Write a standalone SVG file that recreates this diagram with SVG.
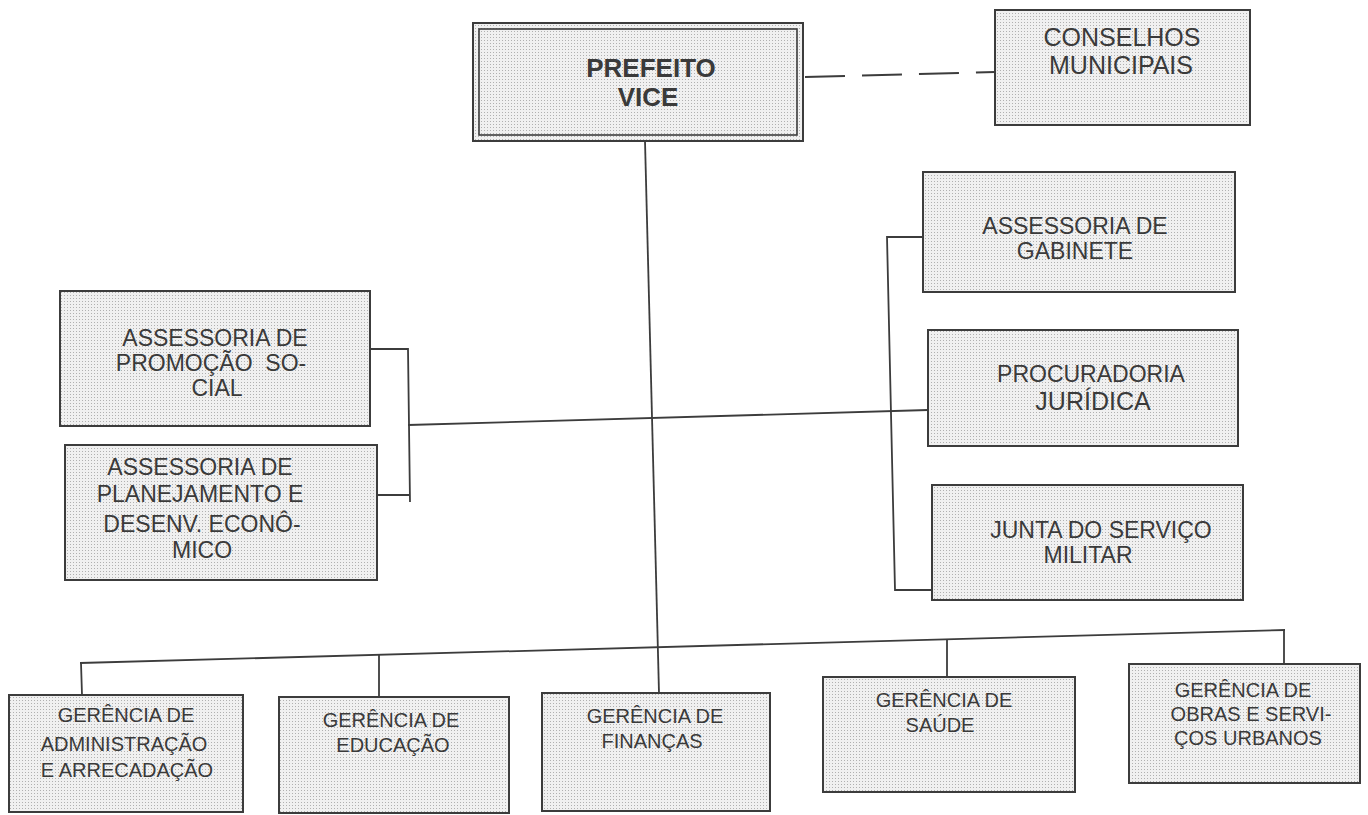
<svg xmlns="http://www.w3.org/2000/svg" width="1368" height="815" viewBox="0 0 1368 815">
<defs>
<pattern id="dots" width="3" height="3" patternUnits="userSpaceOnUse">
<rect width="3" height="3" fill="#f0f0f0"/>
<rect x="1" y="1" width="1" height="1" fill="#b0b0b0"/>
</pattern>
</defs>
<style>
.box{fill:url(#dots);stroke:#3c3c3c;stroke-width:2}
.inner{fill:none;stroke:#3c3c3c;stroke-width:1.6}
.ln{fill:none;stroke:#3c3c3c;stroke-width:1.8}
.dash{fill:none;stroke:#3c3c3c;stroke-width:2;stroke-dasharray:40 17}
text{font-family:"Liberation Sans",Arial,sans-serif;fill:#3a3a3a;text-anchor:middle}
.t20{font-size:20px}
.t22{font-size:22px}
.t23{font-size:23px}
.t25{font-size:25px}
.tb{font-size:26px;font-weight:bold}
.pre{white-space:pre}
</style>
<rect width="1368" height="815" fill="#ffffff"/>
<g id="connectors">
<line class="dash" x1="805" y1="77" x2="995" y2="72"/>
<line class="ln" x1="645" y1="141" x2="659" y2="693"/>
<line class="ln" x1="408" y1="425" x2="928" y2="410"/>
<polyline class="ln" points="370,349 408,349 410,502"/>
<line class="ln" x1="377" y1="495" x2="410" y2="495"/>
<polyline class="ln" points="923,237 887,237 895,590 932,590"/>
<line class="ln" x1="80" y1="663" x2="1285" y2="630"/>
<line class="ln" x1="81" y1="663" x2="82" y2="695"/>
<line class="ln" x1="379" y1="655" x2="379" y2="697"/>
<line class="ln" x1="947" y1="640" x2="947" y2="677"/>
<line class="ln" x1="1284" y1="630" x2="1284" y2="664"/>
</g>
<g id="prefeito">
<rect class="box" x="473" y="23" width="330" height="118"/>
<rect class="inner" x="479" y="29" width="318" height="106"/>
<text class="tb" x="651" y="77">PREFEITO</text>
<text class="tb" x="648" y="106">VICE</text>
</g>
<g id="conselhos">
<rect class="box" x="995" y="10" width="255" height="115"/>
<text class="t25" x="1122" y="46">CONSELHOS</text>
<text class="t25" x="1121" y="74">MUNICIPAIS</text>
</g>
<g id="gabinete">
<rect class="box" x="923" y="172" width="312" height="120"/>
<text class="t23" x="1075" y="234">ASSESSORIA DE</text>
<text class="t23" x="1075" y="259">GABINETE</text>
</g>
<g id="procuradoria">
<rect class="box" x="928" y="330" width="310" height="116"/>
<text class="t23" x="1091" y="382">PROCURADORIA</text>
<text class="t25" x="1093" y="410">JURÍDICA</text>
</g>
<g id="junta">
<rect class="box" x="932" y="485" width="311" height="115"/>
<text class="t23" x="1101" y="538">JUNTA DO SERVIÇO</text>
<text class="t23" x="1088" y="563">MILITAR</text>
</g>
<g id="promocao">
<rect class="box" x="60" y="291" width="310" height="135"/>
<text class="t23" x="215" y="346">ASSESSORIA DE</text>
<text class="t23 pre" x="211" y="371">PROMOÇÃO  SO-</text>
<text class="t23" x="217" y="396">CIAL</text>
</g>
<g id="planejamento">
<rect class="box" x="65" y="445" width="312" height="135"/>
<text class="t23" x="200" y="475">ASSESSORIA DE</text>
<text class="t23" x="200" y="502">PLANEJAMENTO E</text>
<text class="t23" x="202" y="532">DESENV. ECONÔ-</text>
<text class="t23" x="202" y="558">MICO</text>
</g>
<g id="administracao">
<rect class="box" x="9" y="695" width="234" height="117"/>
<text class="t20" x="126" y="722">GERÊNCIA DE</text>
<text class="t20" x="124" y="751">ADMINISTRAÇÃO</text>
<text class="t20" x="127" y="777">E ARRECADAÇÃO</text>
</g>
<g id="educacao">
<rect class="box" x="279" y="697" width="230" height="116"/>
<text class="t20" x="391" y="727">GERÊNCIA DE</text>
<text class="t20" x="393" y="752">EDUCAÇÃO</text>
</g>
<g id="financas">
<rect class="box" x="542" y="693" width="228" height="118"/>
<text class="t20" x="655" y="723">GERÊNCIA DE</text>
<text class="t20" x="652" y="748">FINANÇAS</text>
</g>
<g id="saude">
<rect class="box" x="823" y="677" width="252" height="115"/>
<text class="t20" x="944" y="707">GERÊNCIA DE</text>
<text class="t20" x="940" y="732">SAÚDE</text>
</g>
<g id="obras">
<rect class="box" x="1129" y="664" width="231" height="119"/>
<text class="t20" x="1243" y="697">GERÊNCIA DE</text>
<text class="t20" x="1251" y="721">OBRAS E SERVI-</text>
<text class="t20" x="1248" y="745">ÇOS URBANOS</text>
</g>
</svg>
